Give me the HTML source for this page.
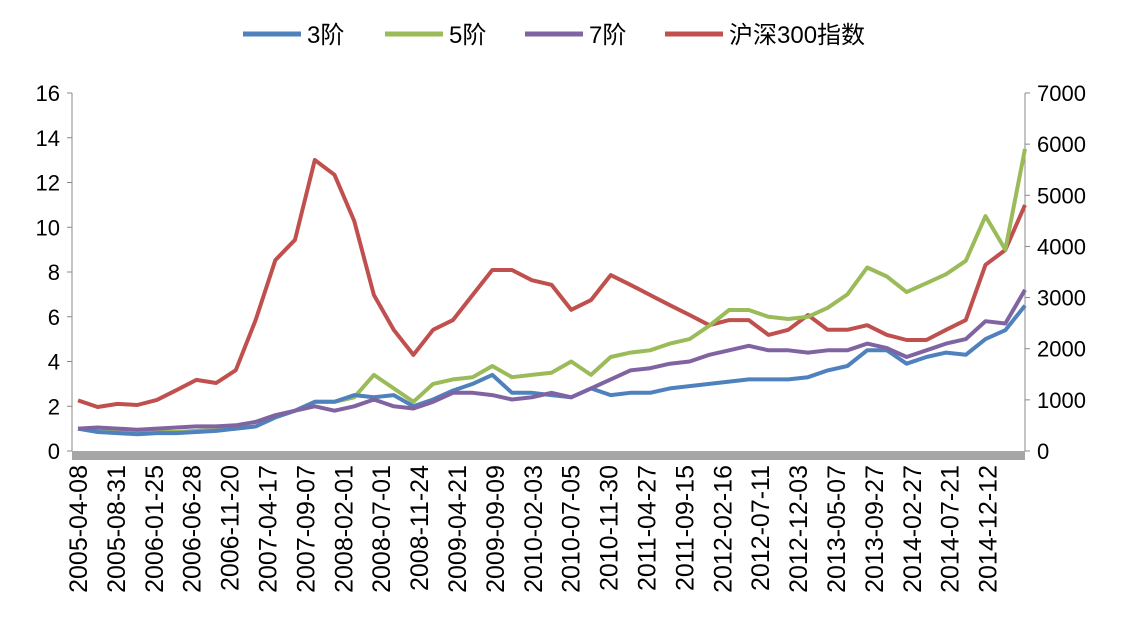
<!DOCTYPE html>
<html><head><meta charset="utf-8"><style>
body{margin:0;background:#fff;}
svg{display:block;font-family:"Liberation Sans","Noto Sans CJK SC",sans-serif;}
</style></head><body>
<svg id="chart" width="1131" height="633"></svg>
<script>
const xLabels=["2005-04-08","2005-08-31","2006-01-25","2006-06-28","2006-11-20","2007-04-17","2007-09-07","2008-02-01","2008-07-01","2008-11-24","2009-04-21","2009-09-09","2010-02-03","2010-07-05","2010-11-30","2011-04-27","2011-09-15","2012-02-16","2012-07-11","2012-12-03","2013-05-07","2013-09-27","2014-02-27","2014-07-21","2014-12-12"];
const leftTicks=[0,2,4,6,8,10,12,14,16];
const rightTicks=[0,1000,2000,3000,4000,5000,6000,7000];
const s3=[1.0,0.85,0.8,0.75,0.8,0.8,0.85,0.9,1.0,1.1,1.5,1.8,2.2,2.2,2.5,2.4,2.5,2.0,2.3,2.7,3.0,3.4,2.6,2.6,2.5,2.4,2.8,2.5,2.6,2.6,2.8,2.9,3.0,3.1,3.2,3.2,3.2,3.3,3.6,3.8,4.5,4.5,3.9,4.2,4.4,4.3,5.0,5.4,6.5];
const s5=[1.0,0.9,0.85,0.8,0.85,0.85,0.9,0.95,1.0,1.1,1.5,1.8,2.2,2.2,2.4,3.4,2.8,2.2,3.0,3.2,3.3,3.8,3.3,3.4,3.5,4.0,3.4,4.2,4.4,4.5,4.8,5.0,5.6,6.3,6.3,6.0,5.9,6.0,6.4,7.0,8.2,7.8,7.1,7.5,7.9,8.5,10.5,9.0,13.5];
const s7=[1.0,1.05,1.0,0.95,1.0,1.05,1.1,1.1,1.15,1.3,1.6,1.8,2.0,1.8,2.0,2.3,2.0,1.9,2.2,2.6,2.6,2.5,2.3,2.4,2.6,2.4,2.8,3.2,3.6,3.7,3.9,4.0,4.3,4.5,4.7,4.5,4.5,4.4,4.5,4.5,4.8,4.6,4.2,4.5,4.8,5.0,5.8,5.7,7.2];
const hs=[990,860,920,900,1000,1190,1390,1330,1580,2560,3730,4130,5690,5400,4500,3050,2370,1880,2370,2560,3050,3540,3540,3340,3250,2760,2950,3440,3250,3050,2850,2660,2460,2560,2560,2270,2370,2660,2370,2370,2460,2270,2170,2170,2370,2560,3640,3930,4810];

const svg=document.getElementById('chart');
const NS="http://www.w3.org/2000/svg";
function mk(t,a){const e=document.createElementNS(NS,t);for(const k in a)e.setAttribute(k,a[k]);svg.appendChild(e);return e;}
const X0=72,X1=1025,Y0=451,Y1=93;
const xs=i=>78+i*(1025-78)/(s3.length-1);
const yl=v=>Y0-(v-0)/16*(Y0-Y1);
const yr=v=>Y0-v/7000*(Y0-Y1);

let e=mk('line',{x1:X0,y1:Y1,x2:X0,y2:Y0,stroke:'#888','stroke-width':1});


e=mk('line',{x1:X1,y1:Y1,x2:X1,y2:Y0,stroke:'#888','stroke-width':1});


leftTicks.forEach(v=>{
  mk('line',{x1:X0-5,y1:yl(v),x2:X0,y2:yl(v),stroke:'#888'});
  const t=mk('text',{x:X0-12,y:yl(v)+8,'text-anchor':'end','font-size':22,fill:'#000'});
  t.textContent=v;
  
  
});
rightTicks.forEach(v=>{
  mk('line',{x1:X1,y1:yr(v),x2:X1+5,y2:yr(v),stroke:'#888'});
  const t=mk('text',{x:X1+12,y:yr(v)+8,'font-size':22,fill:'#000'});
  t.textContent=v;
  
  
});
xLabels.forEach((l,i)=>{
  const x=78+i*37.9;
  const t=mk('text',{transform:`translate(${x+9},465) rotate(-90)`,'text-anchor':'end','font-size':25,fill:'#000'});
  t.textContent=l;
  
  
});
function line(arr,yf,color,name){
  const d=arr.map((v,i)=>(i?'L':'M')+xs(i).toFixed(1)+','+yf(v).toFixed(1)).join(' ');
  const p=mk('path',{d:d,fill:'none',stroke:color,'stroke-width':4,'stroke-linejoin':'round'});
  
  
}
line(hs,yr,'#c0504d','hs300-line');
line(s5,yl,'#9bbb59','order5-line');
line(s3,yl,'#4f81bd','order3-line');
line(s7,yl,'#8064a2','order7-line');
e=mk('rect',{x:X0,y:451,width:X1-X0,height:9,fill:'#a6a6a6'});



const leg=[['3阶','#4f81bd',243],['5阶','#9bbb59',385],['7阶','#8064a2',525],['沪深300指数','#c0504d',665]];
leg.forEach(([n,c,x])=>{
  const g=mk('line',{x1:x,y1:34,x2:x+58,y2:34,stroke:c,'stroke-width':5});
  
  
  const t=mk('text',{x:x+64,y:43,'font-size':24,fill:'#000'});
  t.textContent=n;
  
  
});
</script>
</body></html>
